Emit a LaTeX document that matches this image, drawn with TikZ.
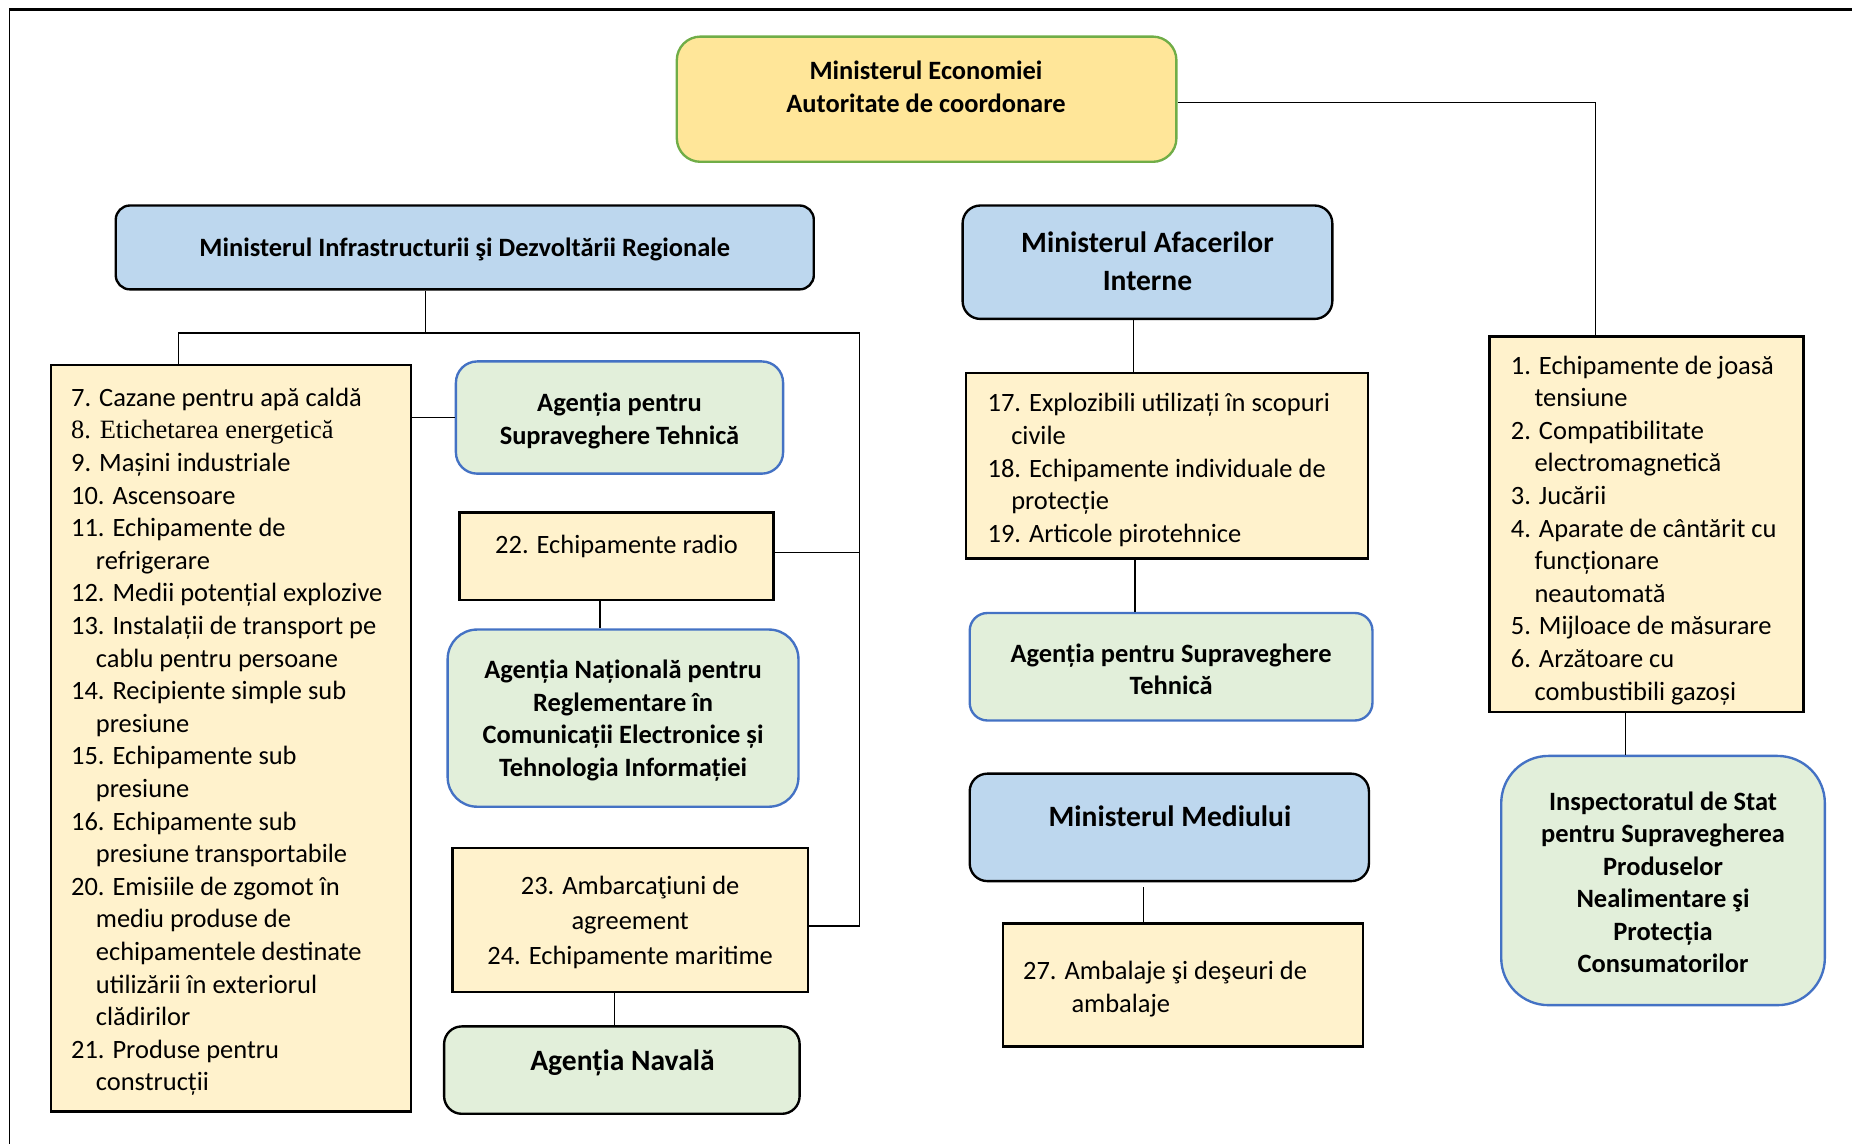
\documentclass[tikz,border=0pt]{standalone}
\usepackage{fontspec}
\setmainfont{Carlito}
\newfontfamily\tnr{Liberation Serif}
\definecolor{econfill}{HTML}{FFE699}
\definecolor{econline}{HTML}{70AD47}
\definecolor{minfill}{HTML}{BDD7EE}
\definecolor{agfill}{HTML}{E2EFDA}
\definecolor{agline}{HTML}{4472C4}
\definecolor{listfill}{HTML}{FFF2CC}
\tikzset{
  txt/.style={inner sep=0pt, align=center, font=\bfseries\fontsize{22.4}{27.5}\selectfont},
  bigtxt/.style={inner sep=0pt, align=center, font=\bfseries\fontsize{25}{32}\selectfont},
  plaintxt/.style={inner sep=0pt, align=center, font=\fontsize{22.4}{27.5}\selectfont},
  listtxt/.style={inner sep=0pt, align=left, anchor=west, font=\fontsize{22.4}{27.6}\selectfont},
  econbox/.style={inner sep=0pt, rounded corners=20pt, fill=econfill, draw=econline, line width=2pt},
  minbox/.style={inner sep=0pt, rounded corners=14pt, fill=minfill, draw=black, line width=2pt},
  agbox/.style={inner sep=0pt, rounded corners=18pt, fill=agfill, draw=agline, line width=2pt},
  listbox/.style={inner sep=0pt, fill=listfill, draw=black, line width=2pt},
  conn/.style={draw=black, line width=1pt}
}
\begin{document}
\begin{tikzpicture}[x=1pt,y=-1pt]
\useasboundingbox (0,0) rectangle (1568,968.6);
% frame
\coordinate (fTL) at (8,8);
\coordinate (fTR) at (1568,8);
\coordinate (fBL) at (8,968.6);
\draw[line width=2pt] (fTL) -- (fTR);
\draw[line width=1.2pt] (fTL) -- (fBL);

% boxes
\node[econbox, minimum width=423pt, minimum height=106pt] (econ) at (784.5,84) {};
\node[txt] (econT) at (784,73.5) {Ministerul Economiei\\Autoritate de coordonare};

\node[minbox, rounded corners=12pt, minimum width=591pt, minimum height=71pt] (midr) at (393.5,209.5) {};
\node[txt] (midrT) at (393.5,211.5) {Ministerul Infrastructurii şi Dezvoltării Regionale};

\node[minbox, rounded corners=15pt, minimum width=313pt, minimum height=96pt] (mai) at (971.5,222) {};
\node[bigtxt] (maiT) at (971.5,221) {Ministerul Afacerilor\\Interne};

\node[listbox, minimum width=305pt, minimum height=632pt] (llist) at (195.5,625) {};
\node[listtxt] (llistT) at (60,628) {7. Cazane pentru apă caldă\\
{\tnr 8. Etichetarea energetică}\\
9. Mașini industriale\\
10. Ascensoare\\
11. Echipamente de\\
\hspace*{21pt}refrigerare\\
12. Medii potențial explozive\\
13. Instalații de transport pe\\
\hspace*{21pt}cablu pentru persoane\\
14. Recipiente simple sub\\
\hspace*{21pt}presiune\\
15. Echipamente sub\\
\hspace*{21pt}presiune\\
16. Echipamente sub\\
\hspace*{21pt}presiune transportabile\\
20. Emisiile de zgomot în\\
\hspace*{21pt}mediu produse de\\
\hspace*{21pt}echipamentele destinate\\
\hspace*{21pt}utilizării în exteriorul\\
\hspace*{21pt}clădirilor\\
21. Produse pentru\\
\hspace*{21pt}construcții};

\node[agbox, minimum width=277pt, minimum height=95pt] (asst1) at (524.5,353.5) {};
\node[txt] (asst1T) at (524.5,356.5) {Agenția pentru\\Supraveghere Tehnică};

\node[listbox, minimum width=266pt, minimum height=74pt] (radio) at (522,471) {};
\node[plaintxt] (radioT) at (522,463) {22. Echipamente radio};

\node[agbox, rounded corners=25pt, minimum width=297pt, minimum height=150pt] (anr) at (527.5,608) {};
\node[txt] (anrT) at (527.5,610) {Agenția Națională pentru\\Reglementare în\\Comunicații Electronice și\\Tehnologia Informației};

\node[listbox, minimum width=301pt, minimum height=122pt] (amb) at (533.5,779) {};
\node[plaintxt, font=\fontsize{22.4}{29.5}\selectfont] (ambT) at (533.5,781) {23. Ambarcaţiuni de\\agreement\\24. Echipamente maritime};

\node[agbox, draw=black, rounded corners=15pt, minimum width=301pt, minimum height=74pt] (nav) at (526.5,906) {};
\node[bigtxt] (navT) at (527,900) {Agenția Navală};

\node[listbox, minimum width=340pt, minimum height=157pt] (r1719) at (988,394.5) {};
\node[listtxt] (r1719T) at (836,398) {17. Explozibili utilizați în scopuri\\
\hspace*{20pt}civile\\
18. Echipamente individuale de\\
\hspace*{20pt}protecție\\
19. Articole pirotehnice};

\node[agbox, rounded corners=15pt, minimum width=341pt, minimum height=91pt] (asst2) at (991.5,564.5) {};
\node[txt] (asst2T) at (991.5,566.5) {Agenția pentru Supraveghere\\Tehnică};

\node[minbox, rounded corners=15pt, minimum width=338pt, minimum height=91pt] (med) at (990,700.5) {};
\node[bigtxt] (medT) at (990.5,691) {Ministerul Mediului};

\node[listbox, minimum width=305pt, minimum height=104pt] (b27) at (1001.5,834) {};
\node[listtxt] (b27T) at (866,837.5) {27. Ambalaje şi deşeuri de\\\hspace*{41pt}ambalaje};

\node[listbox, minimum width=266pt, minimum height=318pt] (rlist) at (1394,444) {};
\node[listtxt] (rlistT) at (1279,449) {1. Echipamente de joasă\\
\hspace*{20pt}tensiune\\
2. Compatibilitate\\
\hspace*{20pt}electromagnetică\\
3. Jucării\\
4. Aparate de cântărit cu\\
\hspace*{20pt}funcționare\\
\hspace*{20pt}neautomată\\
5. Mijloace de măsurare\\
6. Arzătoare cu\\
\hspace*{20pt}combustibili gazoși};

\node[agbox, rounded corners=40pt, minimum width=274pt, minimum height=211pt] (insp) at (1408,745.5) {};
\node[txt] (inspT) at (1408,747) {Inspectoratul de Stat\\pentru Supravegherea\\Produselor\\Nealimentare şi\\Protecția\\Consumatorilor};

% connectors
\coordinate (busJ) at (360,282);
\coordinate (busR) at (728,282);
\draw[conn] ([xshift=-33.5pt]midr.south) -- (busJ);
\draw[conn] ([xshift=-44.5pt]llist.north) |- (busR);
\draw[conn] (busR) |- ([yshift=-5pt]amb.east);
\draw[conn] ([yshift=3pt]radio.east) -- ([yshift=3pt]radio.east -| busR);
\draw[conn] (asst1.west) -- (asst1.west -| llist.east);
\draw[conn] ([xshift=-14pt]radio.south) -- ([xshift=-14pt]radio.south |- anr.north);
\draw[conn] ([xshift=-13.5pt]amb.south) -- ([xshift=-13.5pt]amb.south |- nav.north);
\draw[conn] ([yshift=-3pt]econ.east) -| ([xshift=-43pt]rlist.north);
\draw[conn] ([xshift=-18pt]rlist.south) -- ([xshift=-18pt]rlist.south |- insp.north);
\draw[conn] ([xshift=-11.5pt]mai.south) -- ([xshift=-11.5pt]mai.south |- r1719.north);
\draw[conn] ([xshift=-27pt]r1719.south) -- ([xshift=-27pt]r1719.south |- asst2.north);
\draw[conn] ([xshift=-22pt,yshift=-4pt]med.south) -- ([xshift=-22pt]med.south |- b27.north);
\end{tikzpicture}
\end{document}
